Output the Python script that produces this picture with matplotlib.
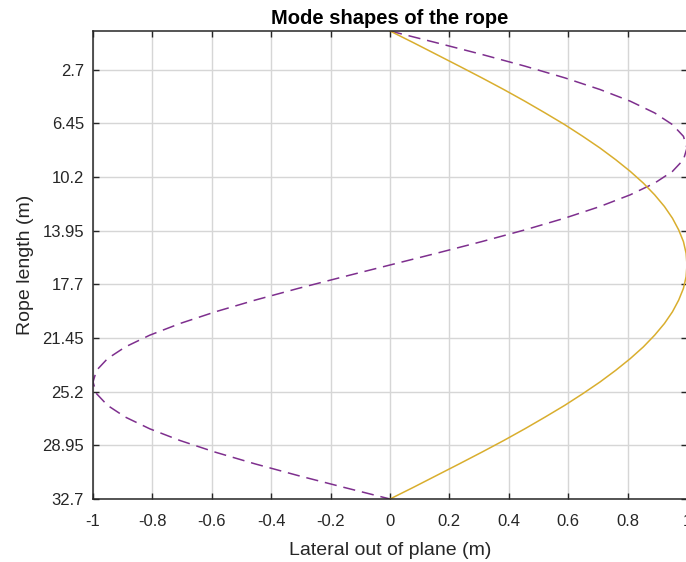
import matplotlib
matplotlib.use("Agg")
import matplotlib.pyplot as plt

# rope length positions (m)
rope_pos = [0.0, 0.818, 1.635, 2.453, 3.27, 4.088, 4.905, 5.723, 6.54, 7.358,
            8.175, 8.993, 9.81, 10.628, 11.445, 12.263, 13.08, 13.898, 14.715, 15.533,
            16.35, 17.168, 17.985, 18.803, 19.62, 20.438, 21.255, 22.073, 22.89, 23.708,
            24.525, 25.343, 26.16, 26.978, 27.795, 28.613, 29.43, 30.248, 31.065, 31.883,
            32.7]
# first mode (solid)
mode1 = [0.0, 0.079, 0.156, 0.233, 0.309, 0.383, 0.454, 0.522, 0.588, 0.649,
         0.707, 0.760, 0.809, 0.853, 0.891, 0.924, 0.951, 0.972, 0.988, 0.997,
         1.0, 0.997, 0.988, 0.972, 0.951, 0.924, 0.891, 0.853, 0.809, 0.760,
         0.707, 0.649, 0.588, 0.522, 0.454, 0.383, 0.309, 0.233, 0.156, 0.079,
         0.0]
# second mode (dashed)
mode2 = [0.0, 0.156, 0.309, 0.454, 0.588, 0.707, 0.809, 0.891, 0.951, 0.988,
         1.0, 0.988, 0.951, 0.891, 0.809, 0.707, 0.588, 0.454, 0.309, 0.156,
         0.0, -0.156, -0.309, -0.454, -0.588, -0.707, -0.809, -0.891, -0.951, -0.988,
         -1.0, -0.988, -0.951, -0.891, -0.809, -0.707, -0.588, -0.454, -0.309, -0.156,
         0.0]

ytick_vals = [2.7, 6.45, 10.2, 13.95, 17.7, 21.45, 25.2, 28.95, 32.7]
ytick_labels = ["2.7", "6.45", "10.2", "13.95", "17.7", "21.45", "25.2", "28.95", "32.7"]
xtick_vals = [-1, -0.8, -0.6, -0.4, -0.2, 0, 0.2, 0.4, 0.6, 0.8, 1]
xtick_labels = ["-1", "-0.8", "-0.6", "-0.4", "-0.2", "0", "0.2", "0.4", "0.6", "0.8", "1"]

plt.rcParams['font.family'] = ['Liberation Sans', 'DejaVu Sans']

fig = plt.figure(figsize=(6.86, 5.62), dpi=100)
W, H = 686, 562
ax = fig.add_axes([93 / W, 63 / H, 594 / W, 468 / H])

ax.plot(mode2, rope_pos, color='#7E2F8E', lw=1.1, linestyle=(0, (8, 4.5)))
ax.plot(mode1, rope_pos, color='#D9AE2E', lw=1.1)

ax.set_xlim(-1, 1)
ax.set_ylim(32.7, 0)
ax.set_xticks(xtick_vals)
ax.set_xticklabels(xtick_labels)
ax.set_yticks(ytick_vals)
ax.set_yticklabels(ytick_labels)

ax.grid(True, color='#d6d6d6', lw=1.0)
ax.set_axisbelow(True)
ax.tick_params(direction='in', length=4, width=1.0, colors='#262626',
               labelsize=12, top=True, right=True)
ax.tick_params(axis='x', pad=11)
ax.tick_params(axis='y', pad=6.5)
for s in ax.spines.values():
    s.set_color('#262626')
    s.set_linewidth(1.1)

ax.set_xlabel('Lateral out of plane (m)', fontsize=14, color='#262626', labelpad=9)
ax.set_ylabel('Rope length (m)', fontsize=14, color='#262626', labelpad=6)
ax.set_title('Mode shapes of the rope', fontsize=14.5, fontweight='bold', pad=5)

fig.savefig('out.png', dpi=100)
